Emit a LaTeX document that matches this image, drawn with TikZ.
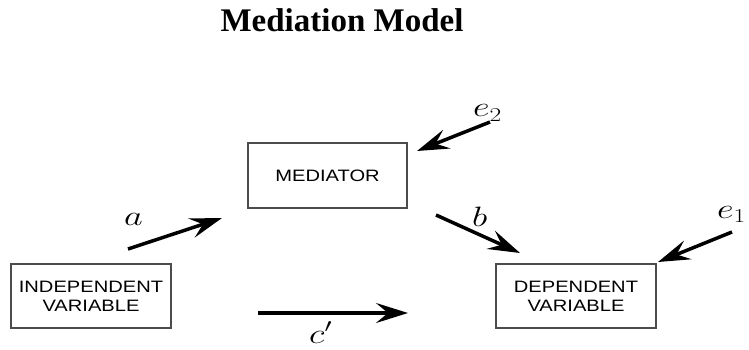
\RequirePackage{fix-cm}
\documentclass[tikz,border=0pt]{standalone}
\usepackage{graphicx}
\usepackage{fontspec}
\newfontfamily\titlefont{Liberation Serif}
\newfontfamily\boxfont[FakeStretch=1.22]{Liberation Sans}
\usetikzlibrary{arrows.meta, positioning}
\newcommand\coefwide[1]{\scalebox{1.3}[1]{#1}}
\tikzset{
	>={Stealth[length=32pt, width=20pt, inset=12pt]},
	varbox/.style={
    rectangle,
    draw=black!70,
    line width=1.2pt,
    minimum width=160pt,
    minimum height=64pt,
    inner sep=0pt,
    align=center,
    font=\boxfont\fontsize{16.5}{19}\selectfont},
  effect/.style={draw, ->, line width=3.5pt},
  coef/.style={font=\fontsize{28}{32}\selectfont, inner sep=0pt},
}
\begin{document}
\begin{tikzpicture}[x=1pt, y=-1pt]
	\useasboundingbox (0,0) rectangle (749,350);
	\node [font=\titlefont\bfseries\fontsize{33}{38}\selectfont, anchor=base] (title) at (342,32) {Mediation Model};

	\node [varbox, minimum height=65pt, minimum width=159pt] (med) at (327.5,175.5) {MEDIATOR};
	\node [varbox] (iv) at (91,296) {INDEPENDENT\\VARIABLE};
	\node [varbox] (dv) at (576,296) {DEPENDENT\\VARIABLE};

	% arrow ends
	\coordinate (a0) at (128,249);  \coordinate (a1) at (222,218);
	\coordinate (b0) at (436,215);  \coordinate (b1) at (520,253);
	\coordinate (c0) at (258,313);  \coordinate (c1) at (408,313);
	\coordinate (e20) at (490,122); \coordinate (e21) at (417,151);
	\coordinate (e10) at (732,232); \coordinate (e11) at (658,262);

	\draw [effect] (a0) -- (a1);
	\draw [effect] (b0) -- (b1);
	\draw [effect] (c0) -- (c1);
	\draw [effect] (e20) -- (e21);
	\draw [effect] (e10) -- (e11);

	\node [coef, anchor=base west] (la) at (124,225) {\coefwide{$a$}};
	\node [coef, anchor=base west] (lb) at (472,226) {\coefwide{$b$}};
	\node [coef, anchor=base west] (lc) at (309,343) {\coefwide{$c'$}};
	\node [coef, anchor=base west] (le2) at (473,117) {\coefwide{$e_2$}};
	\node [coef, anchor=base west] (le1) at (717,218) {\coefwide{$e_1$}};
\end{tikzpicture}
\end{document}
